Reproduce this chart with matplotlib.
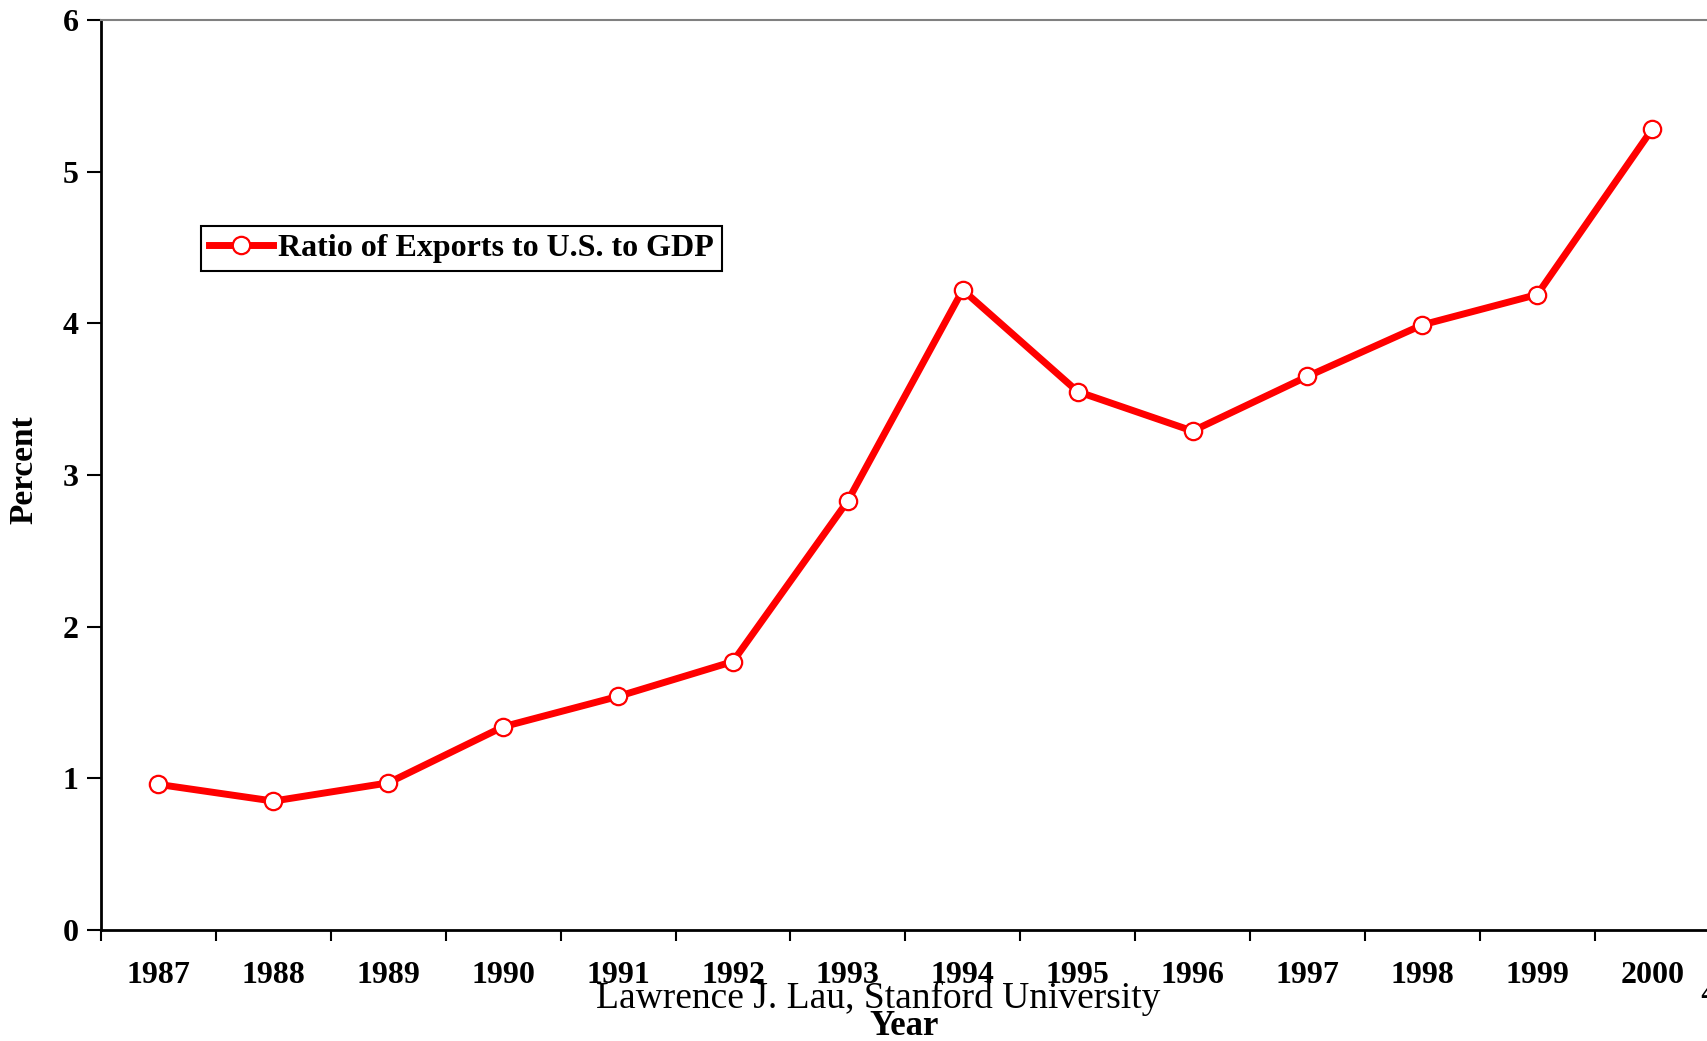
import numpy as np
import matplotlib.pyplot as plt

years = ["1987", "1988", "1989", "1990", "1991", "1992", "1993",
         "1994", "1995", "1996", "1997", "1998", "1999", "2000"]
ratio = [0.96, 0.85, 0.97, 1.34, 1.54, 1.77, 2.83,
         4.22, 3.55, 3.29, 3.65, 3.99, 4.19, 5.28]
yticks = [0, 1, 2, 3, 4, 5, 6]

plt.rcParams['font.family'] = ['Liberation Serif', 'DejaVu Serif']

W, H = 1707, 1041
fig = plt.figure(figsize=(W / 100, H / 100), dpi=100)
ax = fig.add_axes([101 / W, 111 / H, (1709.6 - 101) / W, 910 / H])

x = np.arange(len(years))
ax.plot(x, ratio, color='#ff0000', lw=5, marker='o', markersize=12.5,
        markerfacecolor='white', markeredgecolor='#ff0000', markeredgewidth=1.6,
        label='Ratio of Exports to U.S. to GDP', clip_on=False)

ax.set_xlim(-0.5, len(years) - 0.5)
ax.set_ylim(0, 6)
ax.set_yticks(yticks)
ax.set_yticklabels([str(v) for v in yticks], fontsize=23, fontweight='bold')
ax.set_xticks(x)
ax.set_xticklabels(years, fontsize=23, fontweight='bold')
ax.set_xticks(np.arange(-0.5, len(years)), minor=True)
ax.tick_params(axis='x', which='major', length=0, pad=22)
ax.tick_params(axis='x', which='minor', length=8, width=1.5, direction='out')
ax.tick_params(axis='y', length=10, width=1.5, direction='out', pad=6)

ax.spines['left'].set_linewidth(2)
ax.spines['bottom'].set_linewidth(2)
ax.spines['top'].set_color('#808080')
ax.spines['top'].set_linewidth(1.5)
ax.spines['right'].set_visible(False)

leg = ax.legend(loc='upper left', bbox_to_anchor=(201 / W, 1 - 226 / H),
                bbox_transform=fig.transFigure, borderaxespad=0,
                fancybox=False, edgecolor='black', framealpha=1,
                prop={'weight': 'bold', 'size': 23}, handlelength=2.0,
                handletextpad=0.17, borderpad=0.25)
leg.get_frame().set_linewidth(1.5)

fig.text(24 / W, 1 - 470 / H, 'Percent', rotation=90, ha='center', va='center',
         fontsize=24, fontweight='bold')
fig.text(904 / W, 1 - 1035 / H, 'Year', ha='center', va='baseline',
         fontsize=25, fontweight='bold')
fig.text(878 / W, 1 - 1008 / H, 'Lawrence J. Lau, Stanford University',
         ha='center', va='baseline', fontsize=27)
fig.text(1700 / W, 1 - 1003 / H, '4', ha='left', va='baseline', fontsize=26)

fig.savefig('out.png', dpi=100)
